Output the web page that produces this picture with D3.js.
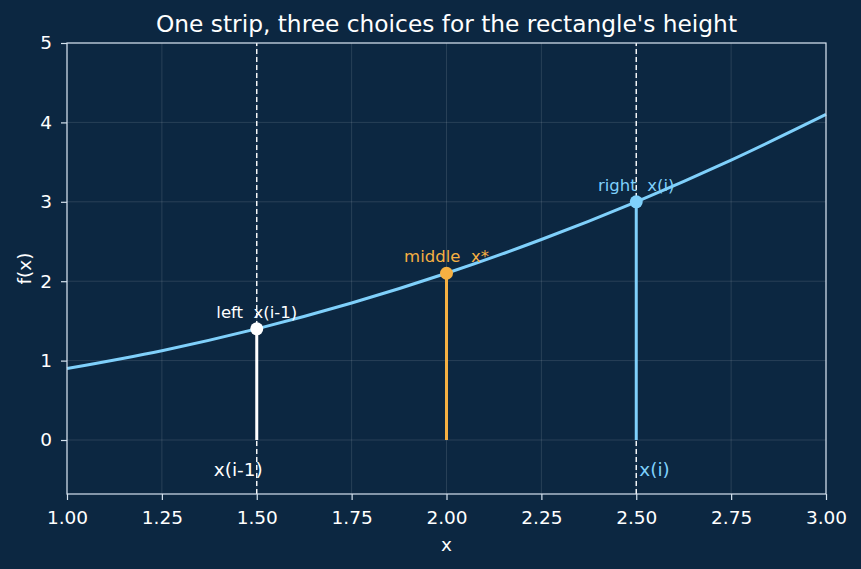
<!DOCTYPE html>
<html>
<head>
<meta charset="utf-8">
<script src="https://cdn.jsdelivr.net/npm/d3@7"></script>
<style>
  html, body { margin: 0; padding: 0; background: #0c2741; }
  svg { display: block; font-family: "DejaVu Sans", sans-serif; }
</style>
</head>
<body>
<div id="app"></div>
<script>
// curve samples
const curveX = [1.0, 1.25, 1.5, 1.75, 2.0, 2.25, 2.5, 2.75, 3.0];
const curveY = [0.9, 1.125, 1.4, 1.725, 2.1, 2.525, 3.0, 3.525, 4.1];

// the three sample points
const choiceNames = ['left  x(i-1)', 'middle  x*', 'right  x(i)'];
const choiceX = [1.5, 2.0, 2.5];
const choiceY = [1.4, 2.1, 3.0];
const choiceColors = ['#ffffff', '#f6b042', '#7fd0fb'];

const xTicks = [1.0, 1.25, 1.5, 1.75, 2.0, 2.25, 2.5, 2.75, 3.0];
const yTicks = [0, 1, 2, 3, 4, 5];

const width = 861;
const height = 569;
const margin = { top: 43, right: 35, bottom: 75, left: 67 };

const bg = '#0c2741';
const axisColor = '#d5e2ee';
const curveColor = '#7fd0fb';

const svg = d3.select('#app')
  .append('svg')
  .attr('width', width)
  .attr('height', height);

svg.append('rect')
  .attr('width', width)
  .attr('height', height)
  .attr('fill', bg);

const x = d3.scaleLinear()
  .domain([1, 3])
  .range([margin.left, width - margin.right]);

const y = d3.scaleLinear()
  .domain([-0.68, 5])
  .range([height - margin.bottom, margin.top]);

// grid
const grid = svg.append('g');
grid.selectAll('.gx')
  .data(xTicks)
  .enter()
  .append('line')
  .attr('x1', d => x(d)).attr('x2', d => x(d))
  .attr('y1', y.range()[0]).attr('y2', y.range()[1])
  .attr('stroke', '#ffffff').attr('stroke-opacity', 0.15).attr('stroke-width', 0.8);
grid.selectAll('.gy')
  .data(yTicks)
  .enter()
  .append('line')
  .attr('x1', x.range()[0]).attr('x2', x.range()[1])
  .attr('y1', d => y(d)).attr('y2', d => y(d))
  .attr('stroke', '#ffffff').attr('stroke-opacity', 0.15).attr('stroke-width', 0.8);

// dashed strip edges
svg.selectAll('.edge')
  .data([choiceX[0], choiceX[2]])
  .enter()
  .append('line')
  .attr('x1', d => x(d)).attr('x2', d => x(d))
  .attr('y1', y.range()[0]).attr('y2', y.range()[1])
  .attr('stroke', '#ffffff')
  .attr('stroke-width', 1.4)
  .attr('stroke-dasharray', '5,3');

// stems
svg.selectAll('.stem')
  .data(choiceX)
  .enter()
  .append('line')
  .attr('x1', d => x(d)).attr('x2', d => x(d))
  .attr('y1', y(0))
  .attr('y2', (d, i) => y(choiceY[i]))
  .attr('stroke', (d, i) => choiceColors[i])
  .attr('stroke-width', 3);

// curve
const line = d3.line()
  .x(d => x(d[0]))
  .y(d => y(d[1]))
  .curve(d3.curveMonotoneX);

svg.append('path')
  .datum(curveX.map((d, i) => [d, curveY[i]]))
  .attr('d', line)
  .attr('fill', 'none')
  .attr('stroke', curveColor)
  .attr('stroke-width', 3);

// points
svg.selectAll('.pt')
  .data(choiceX)
  .enter()
  .append('circle')
  .attr('cx', d => x(d))
  .attr('cy', (d, i) => y(choiceY[i]))
  .attr('r', 6.5)
  .attr('fill', (d, i) => choiceColors[i]);

// point labels
svg.selectAll('.lab')
  .data(choiceNames)
  .enter()
  .append('text')
  .attr('xml:space', 'preserve')
  .attr('x', (d, i) => x(choiceX[i]))
  .attr('y', (d, i) => y(choiceY[i]) - 11)
  .attr('text-anchor', 'middle')
  .attr('fill', (d, i) => choiceColors[i])
  .attr('font-size', 16.5)
  .text(d => d);

// edge labels under zero
svg.append('text')
  .attr('x', x(choiceX[0]) + 6)
  .attr('y', y(-0.45))
  .attr('text-anchor', 'end')
  .attr('fill', '#ffffff')
  .attr('font-size', 18.5)
  .text('x(i-1)');

svg.append('text')
  .attr('x', x(choiceX[2]) + 3)
  .attr('y', y(-0.45))
  .attr('text-anchor', 'start')
  .attr('fill', choiceColors[2])
  .attr('font-size', 18.5)
  .text('x(i)');

// frame
svg.append('rect')
  .attr('x', x.range()[0])
  .attr('y', y.range()[1])
  .attr('width', x.range()[1] - x.range()[0])
  .attr('height', y.range()[0] - y.range()[1])
  .attr('fill', 'none')
  .attr('stroke', axisColor)
  .attr('stroke-width', 1.2);

// axes
const xAxis = svg.append('g')
  .attr('transform', `translate(0,${y.range()[0]})`)
  .call(d3.axisBottom(x).tickValues(xTicks).tickFormat(d3.format('.2f')).tickSize(6).tickPadding(11));

const yAxis = svg.append('g')
  .attr('transform', `translate(${x.range()[0]},0)`)
  .call(d3.axisLeft(y).tickValues(yTicks).tickFormat(d3.format('d')).tickSize(6).tickPadding(9));

[xAxis, yAxis].forEach(a => {
  a.select('.domain').remove();
  a.selectAll('line').attr('stroke', axisColor).attr('stroke-width', 1.2);
  a.selectAll('text')
    .attr('fill', '#ffffff')
    .attr('font-size', 18.5)
    .attr('font-family', '"DejaVu Sans", sans-serif');
});

// titles
svg.append('text')
  .attr('x', (x.range()[0] + x.range()[1]) / 2)
  .attr('y', 32)
  .attr('text-anchor', 'middle')
  .attr('fill', '#ffffff')
  .attr('font-size', 23.3)
  .text("One strip, three choices for the rectangle's height");

svg.append('text')
  .attr('x', (x.range()[0] + x.range()[1]) / 2)
  .attr('y', 551)
  .attr('text-anchor', 'middle')
  .attr('fill', '#ffffff')
  .attr('font-size', 18.5)
  .text('x');

svg.append('text')
  .attr('transform', `translate(31,${(y.range()[0] + y.range()[1]) / 2}) rotate(-90)`)
  .attr('text-anchor', 'middle')
  .attr('fill', '#ffffff')
  .attr('font-size', 18.5)
  .text('f(x)');
</script>
</body>
</html>
